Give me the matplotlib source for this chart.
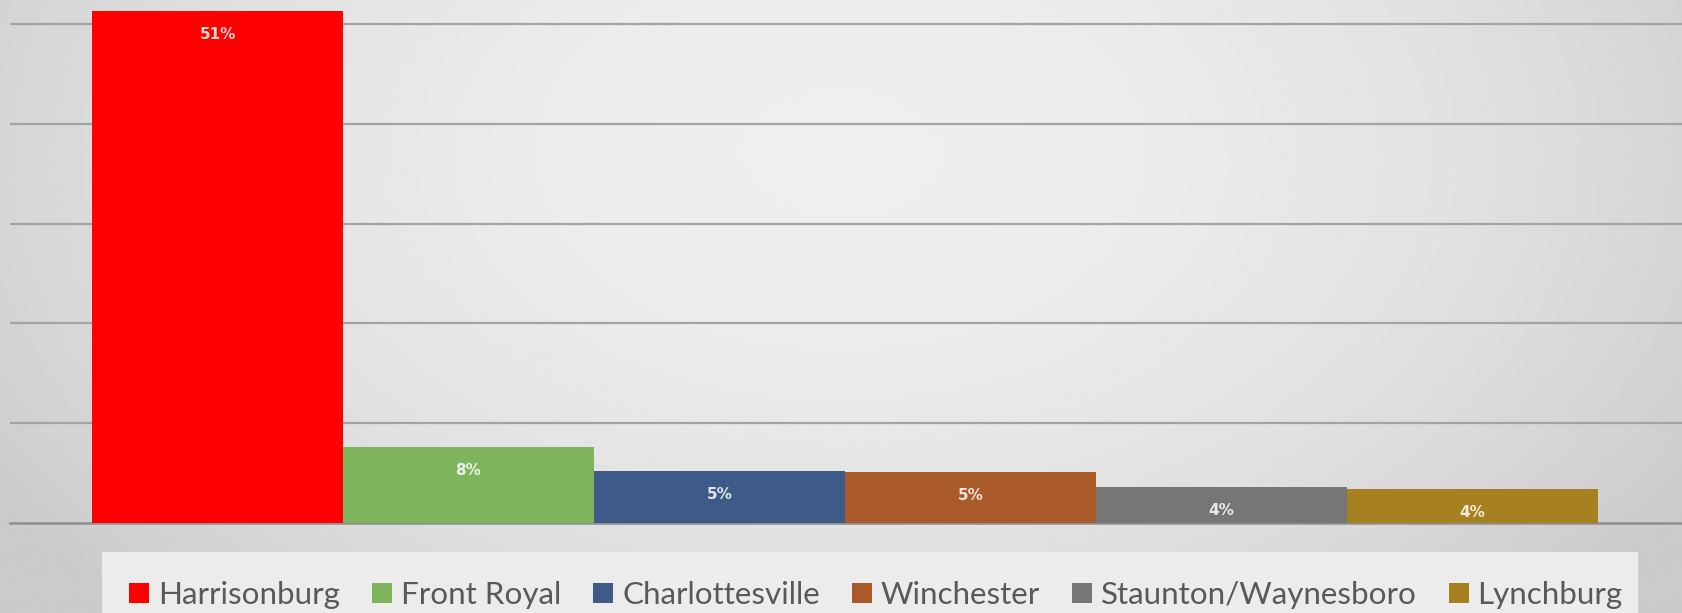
import numpy as np
import matplotlib
matplotlib.use("Agg")
import matplotlib.pyplot as plt
from matplotlib.patches import Rectangle
from matplotlib.colors import to_rgb

plt.rcParams['font.family'] = ['Lato', 'DejaVu Sans']

cities = ["Harrisonburg", "Front Royal", "Charlottesville", "Winchester",
          "Staunton/Waynesboro", "Lynchburg"]
shares = [51.3, 7.6, 5.2, 5.1, 3.6, 3.4]
labels = ["51%", "8%", "5%", "5%", "4%", "4%"]
colors = ["#ff0000", "#7db45c", "#3e5a88", "#a95a28", "#767676", "#a7811f"]

fig = plt.figure(figsize=(16.82, 6.13), dpi=100)

# grey gradient backdrop
bg = fig.add_axes([0, 0, 1, 1], zorder=-10)
yy, xx = np.mgrid[0:1:300j, 0:1:800j]
r = np.sqrt(((xx - 0.5) / 0.6) ** 2 + ((yy - 0.25) / 1.05) ** 2)
shade = 0.935 - 0.14 * np.clip(r, 0, 1) ** 2
bg.imshow(shade, cmap="gray", vmin=0, vmax=1, aspect="auto", extent=[0, 1, 1, 0])
bg.set_axis_off()

# legend panel
fig.patches.append(Rectangle((102 / 1682, 0), (1638 - 102) / 1682, (613 - 552) / 613,
                             transform=fig.transFigure, facecolor="#ececec",
                             edgecolor="none", zorder=-5))

ax = fig.add_axes([10 / 1682, (613 - 523) / 613, 1 - 10 / 1682, 523 / 613])
ax.set_facecolor("none")

x = np.arange(len(cities))
bars = ax.bar(x, shares, width=1.0, color=colors, edgecolor="none", zorder=3)

for xi, v, lab, c in zip(x, shares, labels, colors):
    tint = tuple(0.15 * np.array(to_rgb(c)) + 0.85)
    ax.annotate(lab, xy=(xi, v), xytext=(0, -17), textcoords="offset points",
                ha="center", va="center", fontsize=11, fontweight="bold",
                family="DejaVu Sans", color=tint, zorder=4)

ax.set_xlim(-0.827, 5.835)
ax.set_ylim(0, 52.4)
ax.set_yticks([10, 20, 30, 40, 50])
ax.yaxis.grid(True, color="#a3a3a3", linewidth=1.6, zorder=0)
ax.tick_params(left=False, bottom=False, labelleft=False, labelbottom=False)
for s in ["top", "right", "left"]:
    ax.spines[s].set_visible(False)
ax.spines["bottom"].set_color("#8e8e8e")
ax.spines["bottom"].set_linewidth(1.8)

leg = fig.legend(handles=list(bars), labels=cities, ncol=6, loc="center",
                 bbox_to_anchor=(876 / 1682, 18 / 613), frameon=False,
                 fontsize=22.6, handlelength=0.64, handleheight=0.64,
                 handletextpad=0.28, columnspacing=1.02, borderpad=0)
for t in leg.get_texts():
    t.set_color("#595959")

fig.savefig("out.png", dpi=100)
